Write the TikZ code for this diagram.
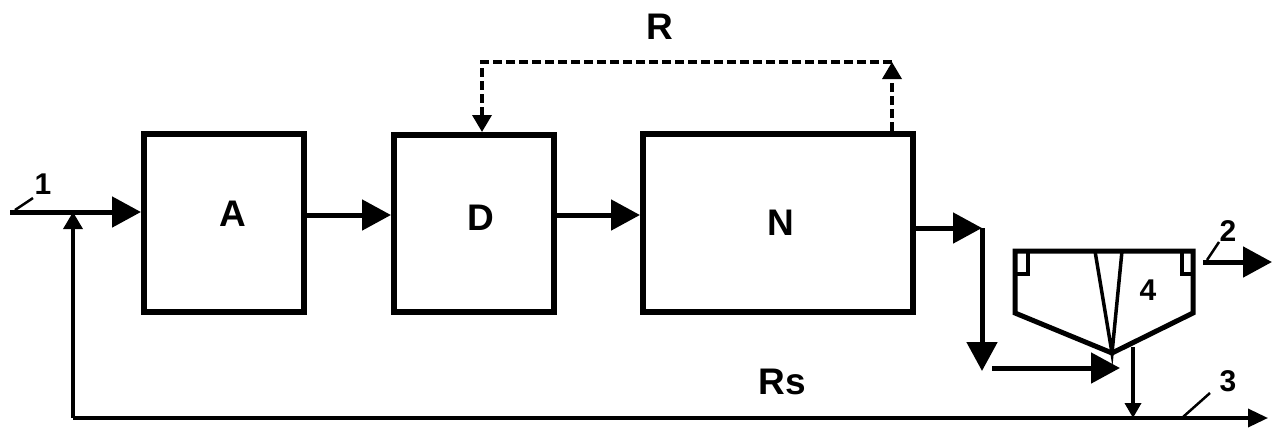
\documentclass[tikz,border=0pt]{standalone}
\usepackage{fontspec}
\setmainfont{Liberation Sans}
\usetikzlibrary{arrows.meta}
\tikzset{
  box/.style={draw, line width=6pt, inner sep=0pt},
  letter/.style={font=\fontsize{37}{42}\selectfont\bfseries, inner sep=0pt},
  num/.style={font=\fontsize{30}{34}\selectfont\bfseries, inner sep=0pt},
  flow/.style={line width=5pt, -{Triangle[length=29pt,width=30pt]}},
  thinflow/.style={line width=3.5pt},
  smallhead/.style={-{Triangle[length=17pt,width=19pt]}},
  tinyhead/.style={-{Triangle[length=15pt,width=16pt]}},
  recycleline/.style={line width=3.5pt, dashed, dash pattern=on 9pt off 4pt},
  tick/.style={line width=2.5pt},
  vessel/.style={line width=5pt, line join=miter}
}
\begin{document}
\begin{tikzpicture}[x=1pt,y=-1pt]
\useasboundingbox (0,0) rectangle (1277,429);
% boxes
\node[box, minimum width=160pt, minimum height=178pt] (A) at (224,223) {};
\node[box, minimum width=160pt, minimum height=177pt] (D) at (474,223.5) {};
\node[box, minimum width=270pt, minimum height=178pt] (N) at (778,223) {};
\node[letter] (lA) at (233,214) {A};
\node[letter] (lD) at (481,218) {D};
\node[letter] (lN) at (781,223) {N};
% helper coordinates
\coordinate (in) at (10,212);
\coordinate (j) at (73,212);
\coordinate (m) at (0,215);
\coordinate (r1) at (892,62);
\coordinate (r2) at (482,62);
\coordinate (o1) at (982,228);
\coordinate (o2) at (982,371);
\coordinate (f1) at (992,368);
\coordinate (f2) at (1120,368);
\coordinate (bl) at (73,418);
\coordinate (br) at (1268,418);
\coordinate (u1) at (1133,347);
\coordinate (e1) at (1203,262);
\coordinate (e2) at (1272,262);
% input and main line
\draw[flow] (in) -- (in -| A.west);
\draw[flow] (A.east |- m) -- (D.west |- m);
\draw[flow] (D.east |- m) -- (N.west |- m);
% recycle Rs
\draw[thinflow, -{Triangle[length=20pt,width=18pt]}] (bl) -- (br);
\draw[thinflow, smallhead] (bl) -- (j);
% internal recycle R (dashed)
\draw[recycleline, smallhead] (N.north -| r1) -- (r1);
\draw[recycleline, smallhead] (r1) -- (r2) -- (r2 |- D.north);
% N output to clarifier
\draw[flow] (N.east |- o1) -- (o1);
\draw[flow] (o1) -- (o2);
\draw[flow] (f1) -- (f2);
% clarifier 4
\coordinate (c1) at (1015,251);
\coordinate (c2) at (1193,251);
\coordinate (c3) at (1193,313);
\coordinate (c4) at (1112,353);
\coordinate (c5) at (1015,313);
\draw[vessel] (c1) -- (c2) -- (c3) -- (c4) -- (c5) -- cycle;
\draw[line width=4pt] (1015,274) -- (1028,274) -- (1028,251);
\draw[line width=4pt] (1193,274) -- (1182,274) -- (1182,251);
\draw[line width=3.5pt, line join=miter] (1095,251) -- (c4) -- (1122,251);
\node[num] (l4) at (1148,290) {4};
% underflow
\draw[thinflow, tinyhead] (u1) -- (u1 |- bl);
% effluent
\draw[flow] (e1) -- (e2);
% labels
\node[letter] (lR) at (660,27) {R};
\node[letter] (lRs) at (782,382) {Rs};
\node[num] (l1) at (43,184) {1};
\node[num] (l2) at (1228,231) {2};
\node[num] (l3) at (1228,381) {3};
\draw[tick] (15,210) -- (33,198);
\draw[tick] (1207,260) -- (1219,242);
\draw[tick] (1183,417) -- (1210,393);
\end{tikzpicture}
\end{document}
